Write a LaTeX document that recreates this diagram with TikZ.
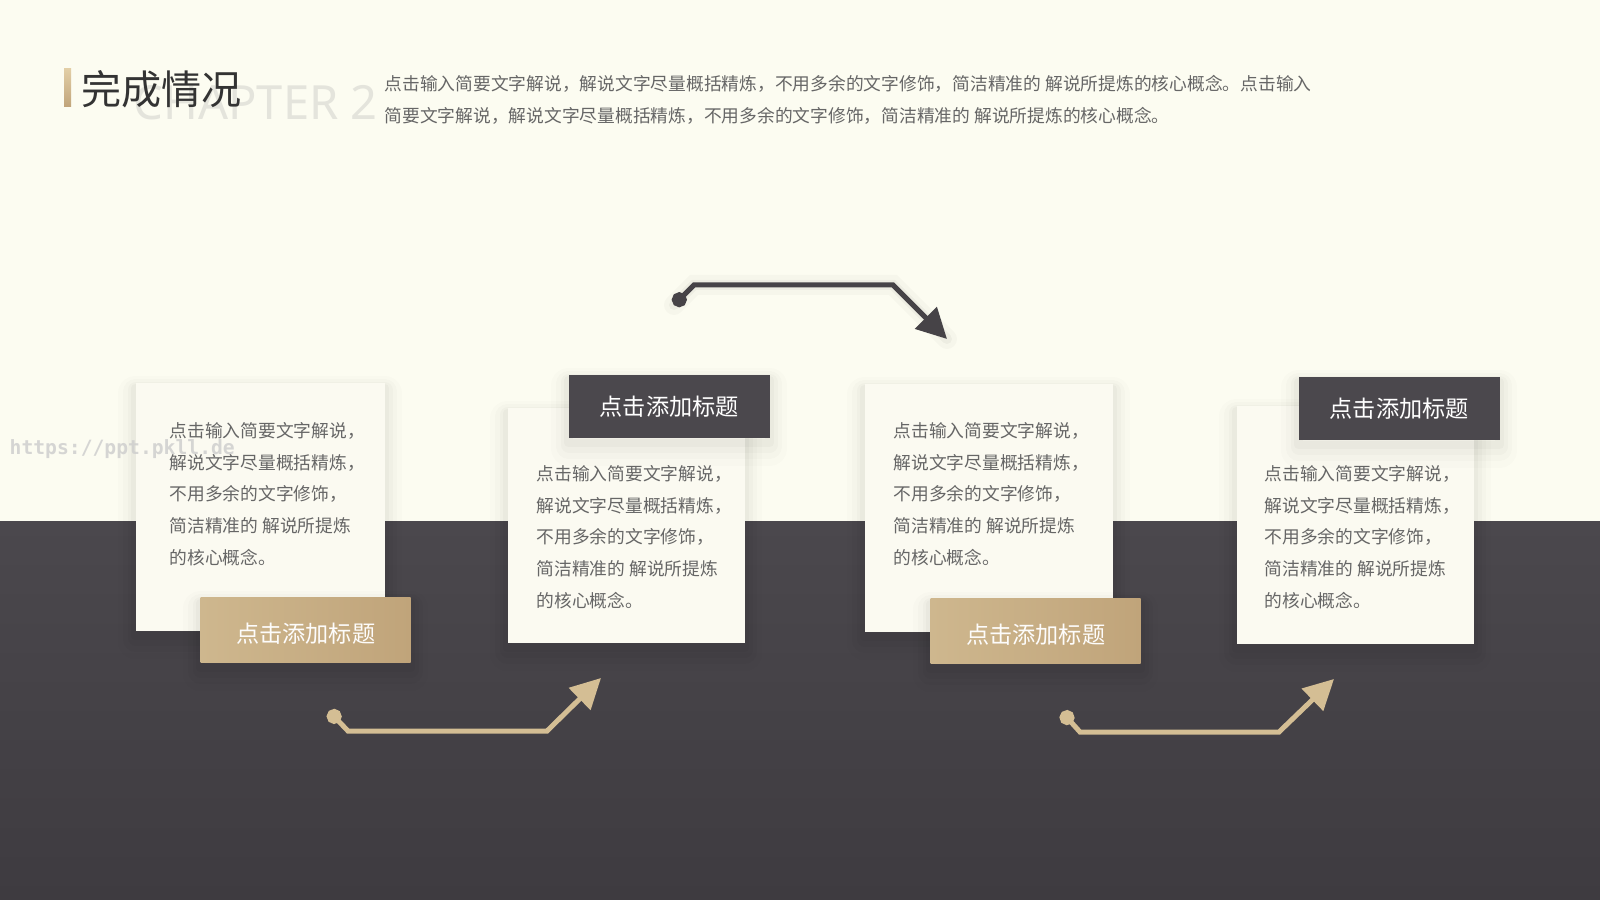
\documentclass[tikz,border=0pt]{standalone}
\usepackage{fontspec}
\setmainfont{Noto Sans CJK SC}
\newfontfamily\latinfont{Noto Sans}
\newfontfamily\monofont{DejaVu Sans Mono}
\usetikzlibrary{arrows.meta}

\definecolor{creme}{RGB}{252,252,241}
\definecolor{sombre}{RGB}{75,72,77}
\definecolor{sombrebas}{RGB}{62,59,64}
\definecolor{fondcarte}{RGB}{251,250,241}
\definecolor{orgauche}{RGB}{206,183,142}
\definecolor{orclair}{RGB}{226,206,166}
\definecolor{orfonce}{RGB}{192,164,122}
\definecolor{gristexte}{RGB}{102,102,102}
\definecolor{gristitre}{RGB}{51,51,51}
\definecolor{fantome}{RGB}{228,228,220}
\definecolor{flechenoire}{RGB}{70,67,71}
\definecolor{orfleche}{RGB}{212,190,148}

\tikzset{
  ombre/.style={
    preaction={draw=black, opacity=0.012, line width=10pt, line join=round, transform canvas={yshift=-3pt}},
    preaction={draw=black, opacity=0.016, line width=7pt, line join=round, transform canvas={yshift=-2.5pt}},
    preaction={draw=black, opacity=0.02, line width=4.5pt, line join=round, transform canvas={yshift=-2pt}},
    preaction={draw=black, opacity=0.025, line width=2.5pt, line join=round, transform canvas={yshift=-1.5pt}}},
  carte/.style={fill=fondcarte, anchor=north west, inner sep=0, ombre},
  titreor/.style={left color=orgauche, middle color=orclair, right color=orfonce, anchor=north west, inner sep=0,
    minimum width=21mm, minimum height=6.5mm, text=white!95!orclair, font=\fontsize{6.6}{7}\selectfont, ombre},
  titrenoir/.style={fill=sombre, anchor=north west, inner sep=0,
    minimum width=20.1mm, minimum height=6.3mm, text=white, font=\fontsize{6.6}{7}\selectfont, ombre},
  corps/.style={text=gristexte, font=\fontsize{5.05}{9}\selectfont, align=left, anchor=west, inner sep=0},
  fleche/.style={line width=0.5mm, {Circle[length=1.5mm]}-{Triangle[length=3mm, width=3mm]}}
}

\begin{document}
\begin{tikzpicture}[x=0.1mm, y=-0.1mm]
    \useasboundingbox (0,0) rectangle (1600,900);

    % Fond
    \fill[creme] (0,0) rectangle (1600,521);
    \shade[top color=sombre, bottom color=sombrebas] (0,521) rectangle (1600,900);

    % En-tete
    \shade[top color=orclair, bottom color=orfonce] (64,69) rectangle (71,107);
    \node[anchor=base west, inner sep=0, text=fantome, font=\latinfont\fontsize{13.4}{14}\selectfont] (chapitre) at (133,120) {CHAPTER 2};
    \node[anchor=west, inner sep=0, text=gristitre, font=\fontsize{11.4}{12}\selectfont] (titre) at (81,89) {完成情况};
    \node[corps] (intro) at (384,100) {点击输入简要文字解说，解说文字尽量概括精炼，不用多余的文字修饰，简洁精准的 解说所提炼的核心概念。点击输入\\简要文字解说，解说文字尽量概括精炼，不用多余的文字修饰，简洁精准的 解说所提炼的核心概念。};

    % Cartes
    \node[carte, minimum width=24.9mm, minimum height=24.8mm] (carte1) at (135,382) {};
    \node[carte, minimum width=23.7mm, minimum height=23.5mm] (carte2) at (507,407) {};
    \node[carte, minimum width=24.8mm, minimum height=24.8mm] (carte3) at (864,383) {};
    \node[carte, minimum width=23.7mm, minimum height=23.8mm] (carte4) at (1236,405) {};

    % Textes
    \node[corps] (texte1) at (169,494) {点击输入简要文字解说，\\解说文字尽量概括精炼，\\不用多余的文字修饰，\\简洁精准的 解说所提炼\\的核心概念。};
    \node[corps] (texte2) at (536,537) {点击输入简要文字解说，\\解说文字尽量概括精炼，\\不用多余的文字修饰，\\简洁精准的 解说所提炼\\的核心概念。};
    \node[corps] (texte3) at (893,494) {点击输入简要文字解说，\\解说文字尽量概括精炼，\\不用多余的文字修饰，\\简洁精准的 解说所提炼\\的核心概念。};
    \node[corps] (texte4) at (1264,537) {点击输入简要文字解说，\\解说文字尽量概括精炼，\\不用多余的文字修饰，\\简洁精准的 解说所提炼\\的核心概念。};

    % Titres
    \node[titreor] (titre1) at (200,597) {\raisebox{-1.1pt}[\height][\depth]{点击添加标题}};
    \node[titrenoir] (titre2) at (568,374) {点击添加标题};
    \node[titreor] (titre3) at (930,598) {\raisebox{-1.1pt}[\height][\depth]{点击添加标题}};
    \node[titrenoir] (titre4) at (1298,376) {点击添加标题};

    % Filigrane
    \node[anchor=west, inner sep=0, text=gray!40, opacity=0.8, font=\monofont\bfseries\fontsize{5.6}{6}\selectfont] (lien) at (9,449) {https://ppt.pkll.de};

    % Fleches
    \coordinate (h1) at (674,305);
    \coordinate (h2) at (694,285);
    \coordinate (h3) at (893,285);
    \coordinate (h4) at (947,339);
    \coordinate (a1) at (329,711);
    \coordinate (a2) at (348,731);
    \coordinate (a3) at (547,731);
    \coordinate (a4) at (601,678);
    \coordinate (b1) at (1062,712);
    \coordinate (b2) at (1080,732);
    \coordinate (b3) at (1279,732);
    \coordinate (b4) at (1334,679);

    \begin{scope}[shift={(0,32)}]
        \draw[line width=2mm, black, opacity=0.025, line cap=round] (h1) -- (h2) -- (h3) -- (h4);
        \draw[line width=1mm, black, opacity=0.035, line cap=round] (h1) -- (h2) -- (h3) -- (h4);
    \end{scope}
    \draw[fleche, flechenoire] (h1) -- (h2) -- (h3) -- (h4);
    \draw[fleche, orfleche] (a1) -- (a2) -- (a3) -- (a4);
    \draw[fleche, orfleche] (b1) -- (b2) -- (b3) -- (b4);

\end{tikzpicture}
\end{document}
